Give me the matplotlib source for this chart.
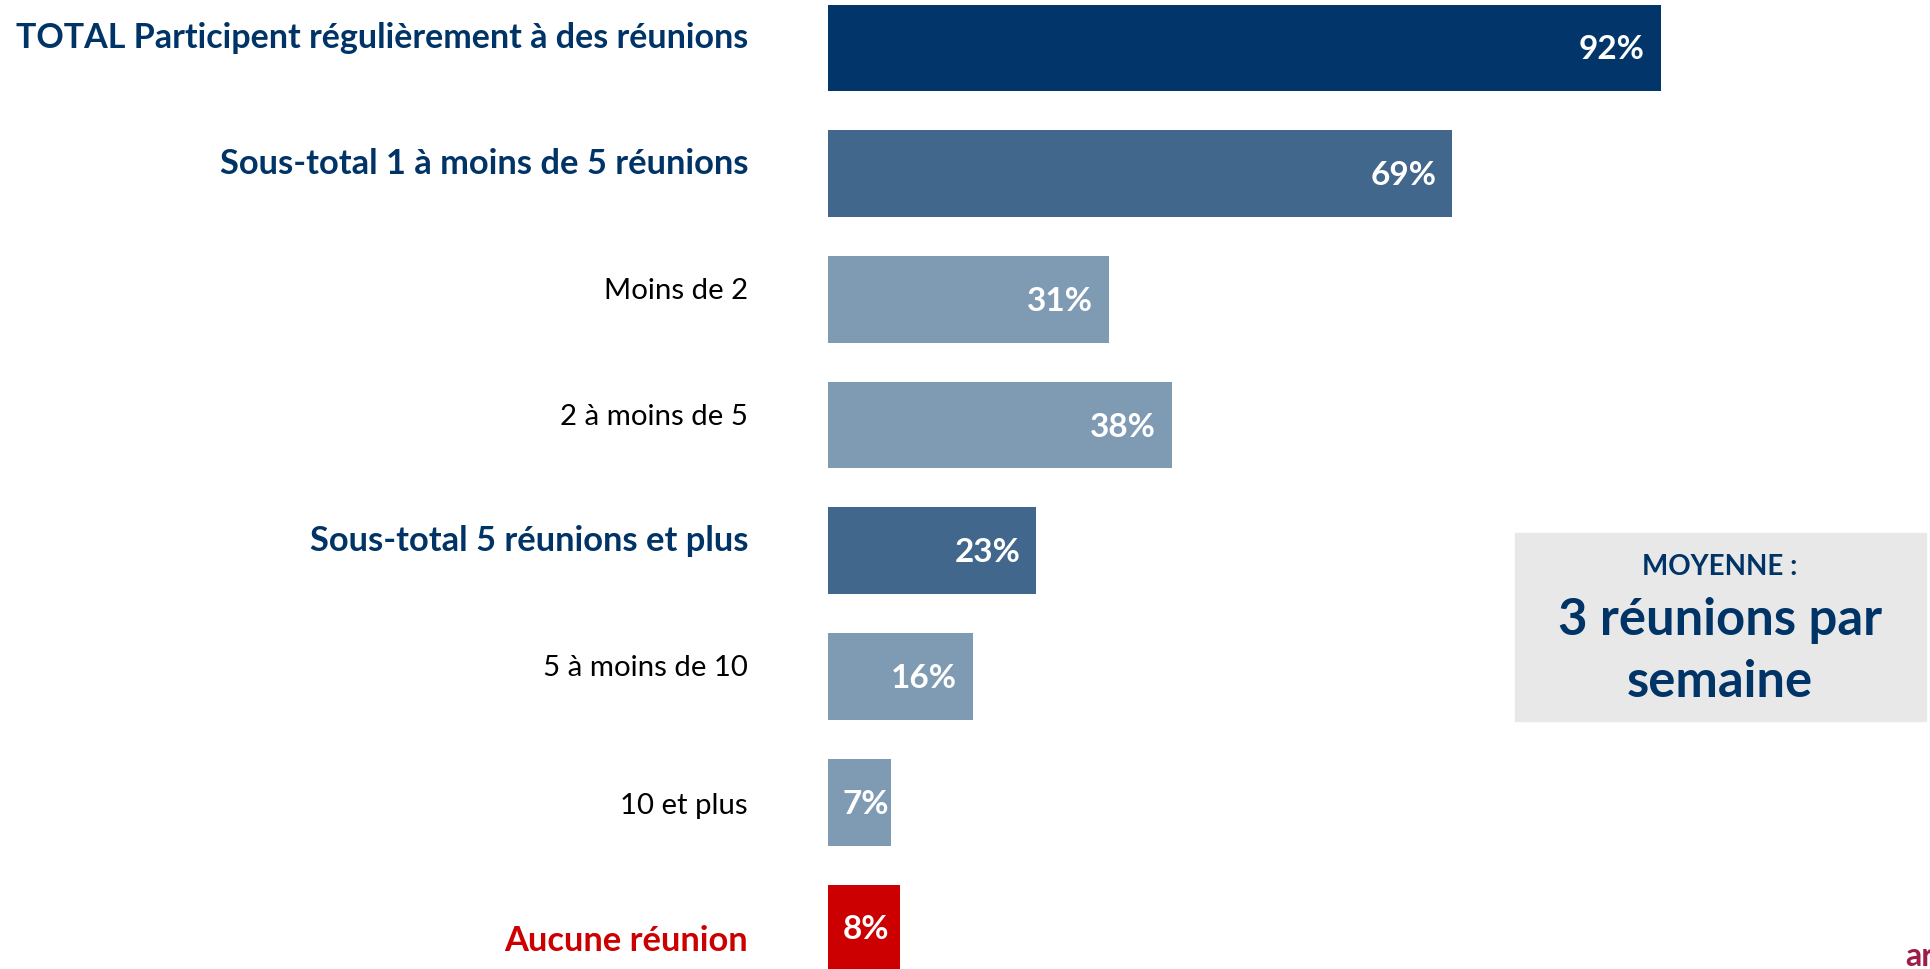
import matplotlib.pyplot as plt
from matplotlib.patches import Rectangle
from matplotlib.transforms import offset_copy

plt.rcParams['font.family'] = ['Lato', 'DejaVu Sans']

# data
categories = [
    "TOTAL Participent régulièrement à des réunions",
    "Sous-total 1 à moins de 5 réunions",
    "Moins de 2",
    "2 à moins de 5",
    "Sous-total 5 réunions et plus",
    "5 à moins de 10",
    "10 et plus",
    "Aucune réunion",
]
values = [92, 69, 31, 38, 23, 16, 7, 8]
levels = ["total", "subtotal", "detail", "detail", "subtotal", "detail", "detail", "none"]
box_title = "MOYENNE :"
box_lines = ["3 réunions par", "semaine"]

# styles
bar_colors = {"total": "#02356A", "subtotal": "#41678C", "detail": "#7F9AB3", "none": "#CC0000"}
label_colors = {"total": "#003366", "subtotal": "#003366", "detail": "#000000", "none": "#CC0000"}
label_weights = {"total": "bold", "subtotal": "bold", "detail": "normal", "none": "bold"}
label_sizes = {"total": 24.5, "subtotal": 24.8, "detail": 21.2, "none": 24.8}
label_dy = [0, 0, 0, 0, 0, 0, -12, -23]  # pixels, baseline shift vs bar centre

W, H = 1930, 969
fig = plt.figure(figsize=(W / 100, H / 100), dpi=100)
ax = fig.add_axes([828 / W, 0, (W - 828) / W, 1])

px_per_pct = 9.05
pitch = 125.7
y = list(range(len(categories)))
ax.barh(y, values, height=0.69, color=[bar_colors[l] for l in levels])
ax.set_xlim(0, (W - 828) / px_per_pct)
ax.set_ylim((H - 48) / pitch, -48 / pitch)
ax.axis('off')

# category labels
for i, (cat, lev) in enumerate(zip(categories, levels)):
    tr = offset_copy(ax.transData, fig=fig, x=-80, y=label_dy[i], units='dots')
    ax.text(0, i, cat, transform=tr, ha='right', va='baseline',
            fontsize=label_sizes[lev],
            fontweight=label_weights[lev], color=label_colors[lev])

# value labels
for i, v in enumerate(values):
    if v >= 10:
        tr = offset_copy(ax.transData, fig=fig, x=-16, y=-2, units='dots')
        ax.text(v, i, f"{v}%", transform=tr, ha='right', va='center',
                fontsize=24, fontweight='bold', color='white')
    else:
        tr = offset_copy(ax.transData, fig=fig, x=15, y=-2, units='dots')
        ax.text(0, i, f"{v}%", transform=tr, ha='left', va='center',
                fontsize=24, fontweight='bold', color='white')

# average box
fig.add_artist(Rectangle((1515 / W, 1 - 721 / H), 411 / W, 188 / H,
                         transform=fig.transFigure, color='#E8E8E8', zorder=0))
cx = 1720 / W
fig.text(cx, 1 - 575 / H, box_title, ha='center', va='baseline',
         fontsize=20, fontweight='bold', color='#003366')
fig.text(cx, 1 - 635 / H, box_lines[0], ha='center', va='baseline',
         fontsize=36.5, fontweight='bold', color='#003366')
fig.text(cx, 1 - 697 / H, box_lines[1], ha='center', va='baseline',
         fontsize=36.5, fontweight='bold', color='#003366')

# cut-off logo fragment in the corner
fig.text(1905 / W, 1 - 966 / H, "ar", ha='left', va='baseline',
         fontsize=23, fontweight='bold', color='#9B1D48')

fig.savefig("out.png", dpi=100)
